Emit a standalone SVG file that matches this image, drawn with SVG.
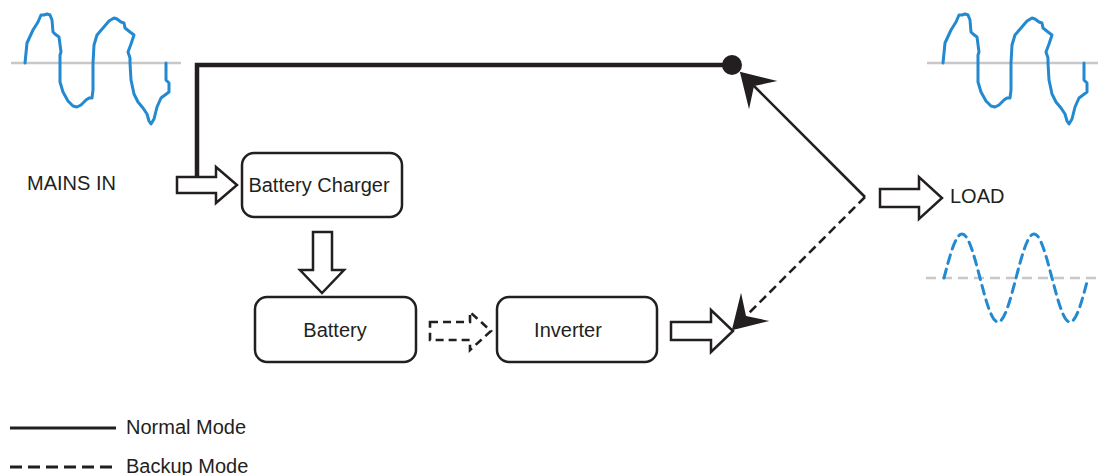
<svg xmlns="http://www.w3.org/2000/svg" width="1114" height="475" viewBox="0 0 1114 475">
<style>
text{font-family:"Liberation Sans",Arial,sans-serif;font-size:20px;fill:#231f20}
.box{fill:#fff;stroke:#231f20;stroke-width:2.5}
.harrow{fill:#fff;stroke:#231f20;stroke-width:2.5;stroke-linejoin:miter}
.dharrow{fill:#fff;stroke:#231f20;stroke-width:2.6;stroke-dasharray:8 5}
.base{stroke:#c8c8c8;stroke-width:2.4;fill:none}
.wave{stroke:#2389d0;stroke-width:3;fill:none;stroke-linejoin:round;stroke-linecap:round}
.solid{stroke:#231f20;fill:none}
.dash{stroke:#231f20;fill:none;stroke-dasharray:9 5}
</style>
<defs>
<marker id="barb" markerUnits="userSpaceOnUse" viewBox="-15 -22 40 44" markerWidth="40" markerHeight="44" refX="0" refY="0" orient="auto">
<path d="M20,0 L-13,-20 L0,0 L-13,20 Z" fill="#231f20" stroke="none"/>
</marker>
<path id="mainswave" d="M25,63 L27,43 L33,30 L38,22 L41,15 L44,15 L47,14 L50,15 L52,20 L53,32 L55,34 L59,37 L61,52 L60,55 L60,63 L60,82 L63,92 L68,101 L73,106 L77,107 L81,105 L86,100 L89,98 L92,98 L93,90 L93,63 L94,45 L97,35 L103,28 L109,21 L114,18 L117,19 L121,22 L124,23 L125,28 L130,32 L134,35 L131,44 L128,52 L130,58 L130,63 L131,80 L134,94 L138,102 L143,108 L147,114 L149,121 L151,124 L154,119 L157,107 L161,98 L165,95 L169,92 L169,83 L166,80 L166,63"/>
</defs>
<rect width="1114" height="475" fill="#fff"/>

<g id="mains-wave">
<line class="base" x1="11" y1="63" x2="181" y2="63"/>
<use href="#mainswave" class="wave"/>
</g>
<g id="output-wave">
<line class="base" x1="927" y1="63" x2="1098" y2="63"/>
<use href="#mainswave" class="wave" transform="translate(918,0)"/>
</g>
<g id="backup-wave">
<line class="base" x1="926" y1="278" x2="1098" y2="278" stroke-dasharray="10 6"/>
<path class="wave" stroke-dasharray="9 6" d="M944,278 C949.9,255.5 955.5,234 962,234 C968.5,234 974.1,255.5 980,278 C985.9,300.5 991.5,322 998,322 C1004.5,322 1010.1,300.5 1016,278 C1021.9,255.5 1027.5,234 1034,234 C1040.5,234 1046.1,255.5 1052,278 C1057.9,300.5 1063.5,322 1070,322 C1076.5,322 1082.1,300.5 1088,278"/>
</g>

<g id="connectors">
<path class="solid" stroke-width="4.5" d="M197,178 V65 H724"/>
<circle cx="732" cy="65" r="10" fill="#231f20"/>
<path class="solid" stroke-width="2.6" d="M865,197 L754,86" marker-end="url(#barb)"/>
<path class="dash" stroke-width="2.6" d="M865,197 L746,316" marker-end="url(#barb)"/>
<path class="harrow" d="M177,177 H216 V167 L237,185 L216,203 V193 H177 Z"/>
<path class="harrow" d="M313,232 H332 V270 H344 L322,293 L300,270 H313 Z"/>
<path class="dharrow" d="M430,322 H470 V312 L491,331 L470,350 V340 H430 Z"/>
<path class="harrow" d="M671,322 H711 V310 L733,331 L711,352 V340 H671 Z"/>
<path class="harrow" d="M880,189 H919 V177 L942,198 L919,219 V207 H880 Z"/>
</g>

<g id="mains-label"><text x="27" y="190">MAINS IN</text></g>
<g id="load-label"><text x="950" y="203">LOAD</text></g>

<g id="charger">
<rect class="box" x="242" y="153" width="160" height="64" rx="12"/>
<text x="319" y="192" text-anchor="middle">Battery Charger</text>
</g>
<g id="battery">
<rect class="box" x="255" y="297" width="161" height="65" rx="12"/>
<text x="335" y="337" text-anchor="middle">Battery</text>
</g>
<g id="inverter">
<rect class="box" x="497" y="297" width="160" height="65" rx="12"/>
<text x="568" y="337" text-anchor="middle">Inverter</text>
</g>

<g id="legend">
<line x1="10" y1="428" x2="116" y2="428" stroke="#231f20" stroke-width="3"/>
<text x="126" y="434">Normal Mode</text>
<line x1="10" y1="467" x2="112" y2="467" stroke="#231f20" stroke-width="3" stroke-dasharray="12 6"/>
<text x="126" y="473">Backup Mode</text>
</g>
</svg>
